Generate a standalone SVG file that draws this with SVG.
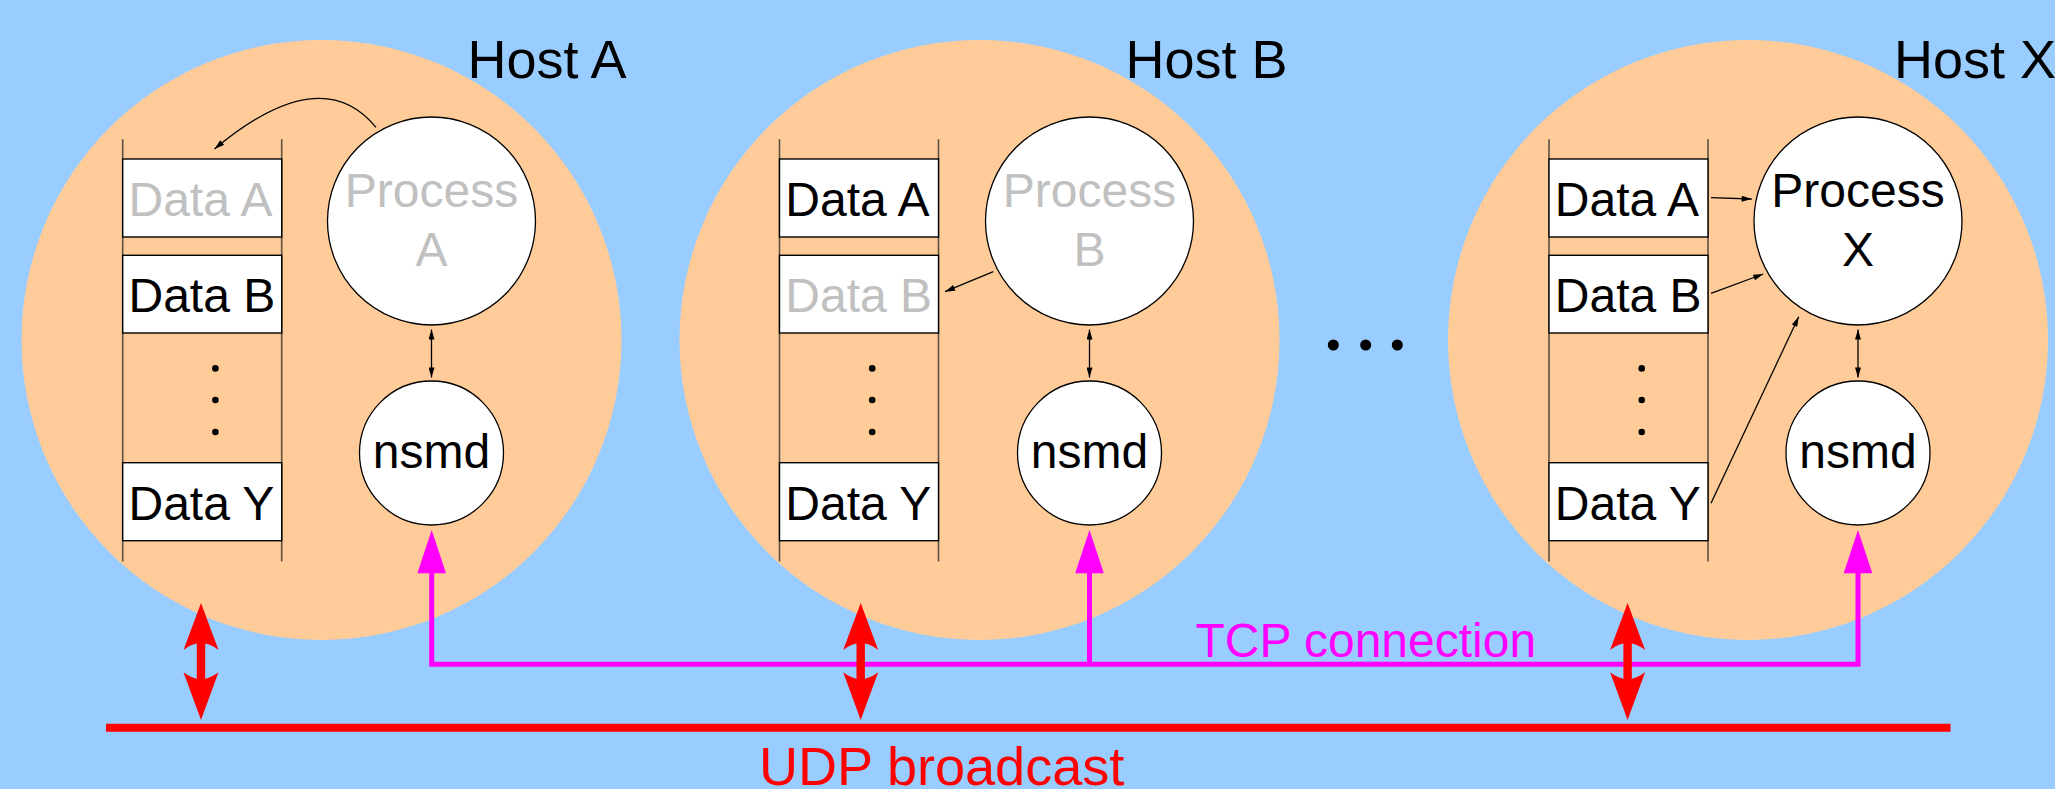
<svg xmlns="http://www.w3.org/2000/svg" width="2055" height="789" viewBox="0 0 2055 789">
<defs>
<style>
text{font-family:"Liberation Sans",Arial,sans-serif;}
.host{fill:#ffcc99;stroke:none;}
.hl{font-size:54px;fill:#000;}
.rail{stroke:#5c5044;stroke-width:1.6;fill:none;}
.box{fill:#fff;stroke:#000;stroke-width:1.4;}
.dl{font-size:48px;fill:#000;}
.proc{fill:#fff;stroke:#000;stroke-width:1.3;}
.pl{font-size:48px;fill:#000;text-anchor:middle;}
text.gray{fill:#c0c0c0;}
.dot{fill:#000;}
.thin{stroke:#000;stroke-width:1.3;fill:none;}
.mag{stroke:#ff00ff;stroke-width:5;fill:none;}
.magh{fill:#ff00ff;}
</style>
<marker id="ah" viewBox="0 0 10 6" refX="10" refY="3" markerWidth="11" markerHeight="6" markerUnits="userSpaceOnUse" orient="auto-start-reverse">
<path d="M0,0 L10,3 L0,6 Z" fill="#000"/>
</marker>
<g id="redDouble">
<rect x="-4.2" y="638" width="8.4" height="46" fill="#ff0000"/>
<path d="M0,603 L17.5,650 Q0,636 -17.5,650 Z" fill="#ff0000"/>
<path d="M0,720 L17.5,672.3 Q0,686 -17.5,672.3 Z" fill="#ff0000"/>
</g>
</defs>
<rect x="0" y="0" width="2055" height="789" fill="#99ccff"/>

<g id="hostA">
<circle class="host" cx="321.5" cy="340" r="300"/>
<text class="hl" x="467.5" y="78.3">Host A</text>
</g>
<g id="hostB">
<circle class="host" cx="979.5" cy="340" r="300"/>
<text class="hl" x="1125.5" y="78.3">Host B</text>
</g>
<g id="hostX">
<circle class="host" cx="1748" cy="340" r="300"/>
<text class="hl" x="1894" y="78.3">Host X</text>
</g>

<g id="stackA">
<line class="rail" x1="122.7" y1="139.3" x2="122.7" y2="561.5"/>
<line class="rail" x1="281.7" y1="139.3" x2="281.7" y2="561.5"/>
<rect class="box" x="122.7" y="159" width="159" height="78"/>
<text class="dl gray" x="128.5" y="216">Data A</text>
<rect class="box" x="122.7" y="255.3" width="159" height="77.7"/>
<text class="dl" x="128.5" y="312.3">Data B</text>
<circle class="dot" cx="215.4" cy="368.4" r="3.3"/>
<circle class="dot" cx="215.4" cy="400" r="3.3"/>
<circle class="dot" cx="215.4" cy="432" r="3.3"/>
<rect class="box" x="122.7" y="462.7" width="159" height="78"/>
<text class="dl" x="128.5" y="519.5">Data Y</text>
</g>
<g id="stackB">
<line class="rail" x1="779.5" y1="139.3" x2="779.5" y2="561.5"/>
<line class="rail" x1="938.5" y1="139.3" x2="938.5" y2="561.5"/>
<rect class="box" x="779.5" y="159" width="159" height="78"/>
<text class="dl" x="785.3" y="216">Data A</text>
<rect class="box" x="779.5" y="255.3" width="159" height="77.7"/>
<text class="dl gray" x="785.3" y="312.3">Data B</text>
<circle class="dot" cx="872.2" cy="368.4" r="3.3"/>
<circle class="dot" cx="872.2" cy="400" r="3.3"/>
<circle class="dot" cx="872.2" cy="432" r="3.3"/>
<rect class="box" x="779.5" y="462.7" width="159" height="78"/>
<text class="dl" x="785.3" y="519.5">Data Y</text>
</g>
<g id="stackX">
<line class="rail" x1="1549" y1="139.3" x2="1549" y2="561.5"/>
<line class="rail" x1="1708" y1="139.3" x2="1708" y2="561.5"/>
<rect class="box" x="1549" y="159" width="159" height="78"/>
<text class="dl" x="1554.8" y="216">Data A</text>
<rect class="box" x="1549" y="255.3" width="159" height="77.7"/>
<text class="dl" x="1554.8" y="312.3">Data B</text>
<circle class="dot" cx="1641.7" cy="368.4" r="3.3"/>
<circle class="dot" cx="1641.7" cy="400" r="3.3"/>
<circle class="dot" cx="1641.7" cy="432" r="3.3"/>
<rect class="box" x="1549" y="462.7" width="159" height="78"/>
<text class="dl" x="1554.8" y="519.5">Data Y</text>
</g>

<g id="processA">
<circle class="proc" cx="431.5" cy="221" r="104"/>
<text class="pl gray" x="431.5" y="207.3">Process</text>
<text class="pl gray" x="431.5" y="265.7">A</text>
</g>
<g id="processB">
<circle class="proc" cx="1089.5" cy="221" r="104"/>
<text class="pl gray" x="1089.5" y="207.3">Process</text>
<text class="pl gray" x="1089.5" y="265.7">B</text>
</g>
<g id="processX">
<circle class="proc" cx="1858" cy="221" r="104"/>
<text class="pl" x="1858" y="207.3">Process</text>
<text class="pl" x="1858" y="265.7">X</text>
</g>

<g id="nsmdA">
<circle class="proc" cx="431.5" cy="453" r="72"/>
<text class="pl" x="431.5" y="468">nsmd</text>
</g>
<g id="nsmdB">
<circle class="proc" cx="1089.5" cy="453" r="72"/>
<text class="pl" x="1089.5" y="468">nsmd</text>
</g>
<g id="nsmdX">
<circle class="proc" cx="1858" cy="453" r="72"/>
<text class="pl" x="1858" y="468">nsmd</text>
</g>

<g id="dots">
<circle class="dot" cx="1333.3" cy="345" r="5.5"/>
<circle class="dot" cx="1365.7" cy="345" r="5.5"/>
<circle class="dot" cx="1397.3" cy="345" r="5.5"/>
</g>

<g id="connectors">
<path class="thin" d="M376,127.3 Q321,60 214.5,149" marker-end="url(#ah)"/>
<line class="thin" x1="431.5" y1="329.5" x2="431.5" y2="377.5" marker-start="url(#ah)" marker-end="url(#ah)"/>
<line class="thin" x1="1089.5" y1="329.5" x2="1089.5" y2="377.5" marker-start="url(#ah)" marker-end="url(#ah)"/>
<line class="thin" x1="1858" y1="329.5" x2="1858" y2="377.5" marker-start="url(#ah)" marker-end="url(#ah)"/>
<line class="thin" x1="993.3" y1="271.7" x2="945" y2="291.7" marker-end="url(#ah)"/>
<line class="thin" x1="1711" y1="197.7" x2="1751.7" y2="199" marker-end="url(#ah)"/>
<line class="thin" x1="1711" y1="293.3" x2="1763.3" y2="274" marker-end="url(#ah)"/>
<line class="thin" x1="1711" y1="503.3" x2="1798.7" y2="316.7" marker-end="url(#ah)"/>

<polyline class="mag" points="431.7,570 431.7,664.2 1858,664.2 1858,570"/>
<line class="mag" x1="1089.5" y1="664.2" x2="1089.5" y2="570"/>
<path class="magh" d="M431.7,530 L446,573.3 L417.4,573.3 Z"/>
<path class="magh" d="M1089.5,530 L1103.8,573.3 L1075.2,573.3 Z"/>
<path class="magh" d="M1858,530 L1872.3,573.3 L1843.7,573.3 Z"/>
<text x="1195.5" y="656.7" font-size="48" fill="#ff00ff">TCP connection</text>

<line x1="106" y1="727.7" x2="1950.5" y2="727.7" stroke="#ff0000" stroke-width="8"/>
<use href="#redDouble" x="201"/>
<use href="#redDouble" x="860.7"/>
<use href="#redDouble" x="1627.6"/>
<text x="759" y="785.4" font-size="54" fill="#ff0000">UDP broadcast</text>
</g>
</svg>
